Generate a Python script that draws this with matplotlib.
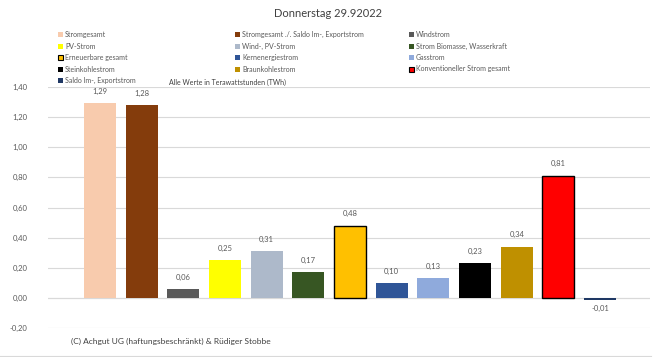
import matplotlib.pyplot as plt
from matplotlib.patches import Rectangle
from matplotlib.lines import Line2D
from matplotlib.ticker import FuncFormatter

plt.rcParams['font.family'] = ['Lato', 'DejaVu Sans']

labels = ['Stromgesamt', 'Stromgesamt ./. Saldo Im-, Exportstrom', 'Windstrom',
          'PV-Strom', 'Wind-, PV-Strom', 'Strom Biomasse, Wasserkraft',
          'Erneuerbare gesamt', 'Kernenergiestrom', 'Gasstrom',
          'Steinkohlestrom', 'Braunkohlestrom', 'Konventioneller Strom gesamt',
          'Saldo Im-, Exportstrom']
values = [1.29, 1.28, 0.06, 0.25, 0.31, 0.17, 0.48, 0.10, 0.13, 0.23, 0.34, 0.81, -0.01]
colors = ['#F8CBAD', '#843C0C', '#595959', '#FFFF00', '#ADB9CA', '#375623',
          '#FFC000', '#2F5597', '#8FAADC', '#000000', '#BF9000', '#FF0000', '#1F3864']
outlined = [False] * 6 + [True] + [False] * 4 + [True, False]
yticks = [-0.2, 0.0, 0.2, 0.4, 0.6, 0.8, 1.0, 1.2, 1.4]

fig = plt.figure(figsize=(6.54, 3.57), dpi=100)
ax = fig.add_axes([0.0734, 0.0804, 0.9206, 0.6767])

for i, v in enumerate(values):
    ax.bar(i, v, width=0.77, color=colors[i],
           edgecolor='black' if outlined[i] else colors[i],
           linewidth=1.0 if outlined[i] else 0, zorder=3)
    txt = f'{v:.2f}'.replace('.', ',')
    if v >= 0:
        ax.annotate(txt, (i, v), xytext=(0, 6), textcoords='offset points',
                    ha='center', va='bottom', fontsize=5.5, color='#595959')
    else:
        ax.annotate(txt, (i, v), xytext=(0, -4), textcoords='offset points',
                    ha='center', va='top', fontsize=5.5, color='#595959')

ax.set_xlim(-1.25, 13.2)
ax.set_ylim(-0.2, 1.4)
ax.set_yticks(yticks)
ax.yaxis.set_major_formatter(FuncFormatter(lambda v, p: f'{v:.2f}'.replace('.', ',')))
ax.tick_params(axis='y', length=0, pad=15, labelsize=5.5, labelcolor='#595959')
ax.set_xticks([])
ax.grid(axis='y', color='#D9D9D9', linewidth=0.8, zorder=0)
for s in ax.spines.values():
    s.set_visible(False)
ax.axhline(0, color='#D9D9D9', linewidth=0.8, zorder=1)

fig.text(0.5015, 0.962, 'Donnerstag 29.92022', ha='center', va='center',
         fontsize=8, color='#404040')

# legend, three columns
col_x = [60, 237, 411]
row_y = [34.3, 46.7, 57.7, 69.0, 80.3]
W, H = 654.0, 357.0
for i, lab in enumerate(labels):
    cx = col_x[i % 3]
    cy = row_y[i // 3]
    sq = 5.0
    fig.patches.append(Rectangle(((cx - sq / 2) / W, 1 - (cy + sq / 2) / H), sq / W, sq / H,
                                 transform=fig.transFigure, facecolor=colors[i],
                                 edgecolor='black' if outlined[i] else colors[i],
                                 linewidth=0.8 if outlined[i] else 0))
    fig.text((cx + 5) / W, 1 - cy / H, lab, ha='left', va='center',
             fontsize=5, color='#595959')

fig.text(169 / W, 1 - 82 / H, 'Alle Werte in Terawattstunden (TWh)', ha='left',
         va='center', fontsize=5, color='#404040')
fig.text(71 / W, 1 - 341.7 / H, '(C) Achgut UG (haftungsbeschränkt) & Rüdiger Stobbe',
         ha='left', va='center', fontsize=6, color='#404040')

# bottom rule of the chart area
fig.lines.append(Line2D([0, 651 / W], [1 - 356 / H, 1 - 356 / H], transform=fig.transFigure,
                        color='#D9D9D9', linewidth=0.8))

fig.savefig('out.png', dpi=100)
